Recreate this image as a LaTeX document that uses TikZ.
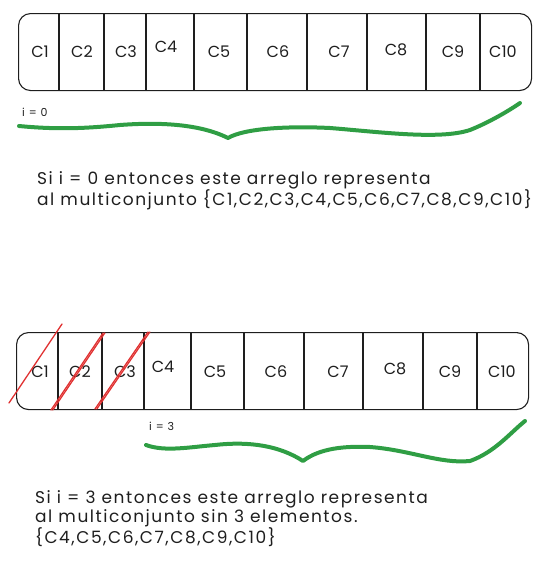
\documentclass[tikz,border=0pt]{standalone}
\usepackage{fontspec}
\setmainfont{Poppins}
\newfontfamily\handfont[LetterSpace=9]{Poppins}
\definecolor{ink}{HTML}{1E1E1E}
\definecolor{grn}{HTML}{2F9E44}
\definecolor{rd}{HTML}{E03131}
\begin{document}
\begin{tikzpicture}[x=1pt,y=-1pt,
  arraybox/.style={draw=ink,line width=1.1pt,rounded corners=12pt,inner sep=0pt,anchor=north west},
  divider/.style={draw=ink,line width=1.1pt},
  cell/.style={font=\fontsize{16}{19}\selectfont,text=ink,inner sep=0pt},
  idx/.style={font=\handfont\fontsize{11}{13}\selectfont,text=ink,inner sep=0pt,anchor=west},
  brace/.style={draw=grn,line width=4pt,line cap=round,line join=round},
  strike/.style={draw=rd,line width=1.3pt,line cap=round},
  txt/.style={font=\handfont\fontsize{17}{21}\selectfont,text=ink,align=left,inner sep=0pt,anchor=north west}]
\useasboundingbox (0,0) rectangle (541,570);
% ---------- top array ----------
\node[arraybox,minimum width=513pt,minimum height=77pt] (A) at (18,13) {};
\foreach \x [count=\i] in {59,104,146,194,247,307,367,426,480}{
  \coordinate (at\i) at (\x,13);
  \coordinate (ab\i) at (\x,90);
  \draw[divider] (at\i) -- (ab\i);
}
\node[cell] (a1) at (40,52) {C1};
\node[cell] (a2) at (82,52) {C2};
\node[cell] (a3) at (126,52) {C3};
\node[cell] (a4) at (166,47) {C4};
\node[cell] (a5) at (219,52) {C5};
\node[cell] (a6) at (278,52) {C6};
\node[cell] (a7) at (339,52) {C7};
\node[cell] (a8) at (396,50) {C8};
\node[cell] (a9) at (453,52) {C9};
\node[cell] (a10) at (503,52) {C10};
\node[idx] (i0) at (22,112) {i = 0};
\coordinate (g1s) at (19,126);
\coordinate (g1e) at (520,103);
\draw[brace] (g1s) .. controls (60,130) and (90,128) .. (120,125)
  .. controls (160,122) and (200,124) .. (228,138)
  .. controls (245,128) and (290,126) .. (330,128)
  .. controls (380,132) and (440,140) .. (470,130)
  .. controls (490,122) and (510,110) .. (g1e);
\node[txt] (t1) at (37,171) {Si i = 0 entonces este arreglo representa\\al multiconjunto \{C1,C2,C3,C4,C5,C6,C7,C8,C9,C10\}};
% ---------- bottom array ----------
\node[arraybox,minimum width=512pt,minimum height=77pt] (B) at (16,332) {};
\foreach \x [count=\i] in {58,102,144,191,244,304,363,423,477}{
  \coordinate (bt\i) at (\x,332);
  \coordinate (bb\i) at (\x,409);
  \draw[divider] (bt\i) -- (bb\i);
}
\node[cell] (b1) at (40,372) {C1};
\node[cell] (b2) at (80,372) {C2};
\node[cell] (b3) at (125,372) {C3};
\node[cell] (b4) at (163,367) {C4};
\node[cell] (b5) at (215,372) {C5};
\node[cell] (b6) at (276,372) {C6};
\node[cell] (b7) at (338,372) {C7};
\node[cell] (b8) at (395,369) {C8};
\node[cell] (b9) at (450,372) {C9};
\node[cell] (b10) at (502,372) {C10};
% strikes
\coordinate (s1a) at (9,403);  \coordinate (s1b) at (62,324);
\coordinate (s2a) at (51,410); \coordinate (s2b) at (103,333);
\coordinate (s3a) at (95,409); \coordinate (s3b) at (148,332);
\draw[strike] (s1a) -- (s1b);
\draw[strike] (s2a) -- (s2b);
\draw[strike] ([xshift=1.8pt]s2a) -- ([xshift=1.8pt]s2b);
\draw[strike] (s3a) -- (s3b);
\draw[strike] ([xshift=1.8pt]s3a) -- ([xshift=1.8pt]s3b);
\node[idx] (i3) at (149,426) {i = 3};
\coordinate (g2s) at (146,445);
\coordinate (g2e) at (525,421);
\draw[brace] (g2s) .. controls (165,452) and (190,447) .. (215,445)
  .. controls (250,441) and (280,446) .. (303,461)
  .. controls (320,448) and (345,446) .. (370,447)
  .. controls (410,450) and (440,464) .. (470,461)
  .. controls (495,452) and (510,433) .. (g2e);
\node[txt,font=\handfont\fontsize{17}{19.5}\selectfont] (t2) at (35,490) {Si i = 3 entonces este arreglo representa\\al multiconjunto sin 3 elementos.\\\{C4,C5,C6,C7,C8,C9,C10\}};
\end{tikzpicture}
\end{document}
